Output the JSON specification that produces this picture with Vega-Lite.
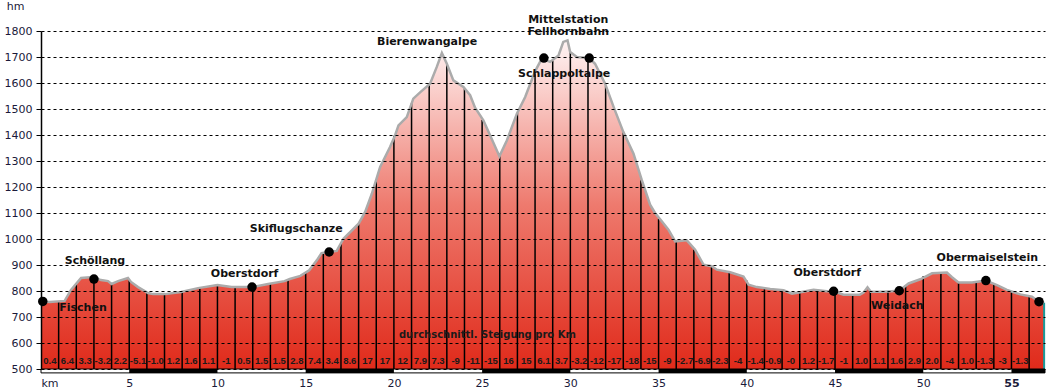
{
  "$schema": "https://vega.github.io/schema/vega-lite/v6.json",
  "width": 1004,
  "height": 338,
  "autosize": "none",
  "padding": {"left": 41, "top": 31, "right": 2, "bottom": 23},
  "background": "#ffffff",
  "config": {"view": {"stroke": null}},
  "datasets": {
    "profile": [
      {"km": 0, "elev": 760}, {"km": 0.5, "elev": 758}, {"km": 1.34, "elev": 762}, {"km": 1.7, "elev": 804},
      {"km": 2.27, "elev": 850}, {"km": 2.95, "elev": 854}, {"km": 3.4, "elev": 842}, {"km": 3.8, "elev": 838},
      {"km": 4.0, "elev": 827}, {"km": 4.37, "elev": 838}, {"km": 4.93, "elev": 850}, {"km": 5.1, "elev": 835},
      {"km": 5.5, "elev": 815}, {"km": 6.07, "elev": 792}, {"km": 6.35, "elev": 788}, {"km": 7.03, "elev": 788},
      {"km": 7.94, "elev": 796}, {"km": 8.9, "elev": 811}, {"km": 10.0, "elev": 823}, {"km": 10.8, "elev": 815},
      {"km": 11.56, "elev": 815}, {"km": 12.0, "elev": 815}, {"km": 12.87, "elev": 827}, {"km": 13.8, "elev": 838},
      {"km": 14.1, "elev": 846}, {"km": 14.7, "elev": 858}, {"km": 15.2, "elev": 880}, {"km": 15.63, "elev": 918},
      {"km": 15.9, "elev": 946}, {"km": 16.3, "elev": 950}, {"km": 16.76, "elev": 954}, {"km": 17.14, "elev": 1001},
      {"km": 18.0, "elev": 1059}, {"km": 18.37, "elev": 1104}, {"km": 18.75, "elev": 1174}, {"km": 19.22, "elev": 1277},
      {"km": 19.78, "elev": 1354}, {"km": 20.07, "elev": 1399}, {"km": 20.26, "elev": 1437}, {"km": 20.73, "elev": 1469},
      {"km": 21.1, "elev": 1540}, {"km": 21.5, "elev": 1565}, {"km": 22.05, "elev": 1597}, {"km": 22.43, "elev": 1662},
      {"km": 22.72, "elev": 1715}, {"km": 23.0, "elev": 1674}, {"km": 23.37, "elev": 1610}, {"km": 23.94, "elev": 1585},
      {"km": 24.32, "elev": 1553}, {"km": 24.6, "elev": 1505}, {"km": 25.07, "elev": 1456}, {"km": 25.45, "elev": 1399},
      {"km": 25.98, "elev": 1318}, {"km": 26.4, "elev": 1379}, {"km": 26.97, "elev": 1482}, {"km": 27.44, "elev": 1546},
      {"km": 28.0, "elev": 1645}, {"km": 28.38, "elev": 1694}, {"km": 28.85, "elev": 1681}, {"km": 29.33, "elev": 1706},
      {"km": 29.6, "elev": 1758}, {"km": 29.84, "elev": 1764}, {"km": 29.99, "elev": 1719}, {"km": 30.37, "elev": 1700},
      {"km": 31.07, "elev": 1696}, {"km": 31.4, "elev": 1674}, {"km": 31.97, "elev": 1597}, {"km": 32.45, "elev": 1508},
      {"km": 33.0, "elev": 1412}, {"km": 33.58, "elev": 1328}, {"km": 34.05, "elev": 1226}, {"km": 34.52, "elev": 1132},
      {"km": 34.8, "elev": 1100}, {"km": 35.09, "elev": 1076}, {"km": 35.56, "elev": 1036}, {"km": 35.94, "elev": 991},
      {"km": 36.6, "elev": 995}, {"km": 37.07, "elev": 959}, {"km": 37.55, "elev": 901}, {"km": 38.02, "elev": 895},
      {"km": 38.3, "elev": 882}, {"km": 39.06, "elev": 872}, {"km": 39.81, "elev": 856}, {"km": 40.1, "elev": 824},
      {"km": 40.57, "elev": 815}, {"km": 41.33, "elev": 808}, {"km": 42.08, "elev": 803}, {"km": 42.56, "elev": 790},
      {"km": 43.03, "elev": 795}, {"km": 43.78, "elev": 805}, {"km": 44.54, "elev": 799}, {"km": 44.92, "elev": 799},
      {"km": 45.48, "elev": 786}, {"km": 46.4, "elev": 786}, {"km": 46.62, "elev": 794}, {"km": 46.84, "elev": 814},
      {"km": 47.03, "elev": 797}, {"km": 47.75, "elev": 797}, {"km": 48.64, "elev": 801}, {"km": 49.17, "elev": 829},
      {"km": 49.83, "elev": 845}, {"km": 50.5, "elev": 868}, {"km": 51.34, "elev": 871}, {"km": 51.63, "elev": 853},
      {"km": 52.0, "elev": 833}, {"km": 52.76, "elev": 833}, {"km": 53.55, "elev": 840}, {"km": 54.18, "elev": 823},
      {"km": 54.74, "elev": 804}, {"km": 55.5, "elev": 787}, {"km": 56.16, "elev": 778}, {"km": 56.56, "elev": 759},
      {"km": 56.85, "elev": 755}
    ],
    "kmlines": [
      {"km": 1, "elev": 760}, {"km": 2, "elev": 828}, {"km": 3, "elev": 848}, {"km": 4, "elev": 827},
      {"km": 5, "elev": 845}, {"km": 6, "elev": 795}, {"km": 7, "elev": 788}, {"km": 8, "elev": 797},
      {"km": 9, "elev": 812}, {"km": 10, "elev": 823}, {"km": 11, "elev": 815}, {"km": 12, "elev": 815},
      {"km": 13, "elev": 829}, {"km": 14, "elev": 843}, {"km": 15, "elev": 870}, {"km": 16, "elev": 948},
      {"km": 17, "elev": 982}, {"km": 18, "elev": 1059}, {"km": 19, "elev": 1226}, {"km": 20, "elev": 1397},
      {"km": 21, "elev": 1522}, {"km": 22, "elev": 1600}, {"km": 23, "elev": 1674}, {"km": 24, "elev": 1578},
      {"km": 25, "elev": 1458}, {"km": 26, "elev": 1318}, {"km": 27, "elev": 1486}, {"km": 28, "elev": 1642},
      {"km": 29, "elev": 1686}, {"km": 30, "elev": 1722}, {"km": 31, "elev": 1692}, {"km": 32, "elev": 1588},
      {"km": 33, "elev": 1410}, {"km": 34, "elev": 1226}, {"km": 35, "elev": 1077}, {"km": 36, "elev": 989},
      {"km": 37, "elev": 960}, {"km": 38, "elev": 895}, {"km": 39, "elev": 870}, {"km": 40, "elev": 840},
      {"km": 41, "elev": 811}, {"km": 42, "elev": 803}, {"km": 43, "elev": 795}, {"km": 44, "elev": 803},
      {"km": 45, "elev": 796}, {"km": 46, "elev": 786}, {"km": 47, "elev": 797}, {"km": 48, "elev": 797},
      {"km": 49, "elev": 822}, {"km": 50, "elev": 858}, {"km": 51, "elev": 870}, {"km": 52, "elev": 833},
      {"km": 53, "elev": 833}, {"km": 54, "elev": 826}, {"km": 55, "elev": 800}, {"km": 56, "elev": 779}
    ],
    "gradients": [
      {"km": 0.5, "g": "0.4"}, {"km": 1.5, "g": "6.4"}, {"km": 2.5, "g": "3.3"}, {"km": 3.5, "g": "-3.2"},
      {"km": 4.5, "g": "2.2"}, {"km": 5.5, "g": "-5.1"}, {"km": 6.5, "g": "-1.0"}, {"km": 7.5, "g": "1.2"},
      {"km": 8.5, "g": "1.6"}, {"km": 9.5, "g": "1.1"}, {"km": 10.5, "g": "-1"}, {"km": 11.5, "g": "0.5"},
      {"km": 12.5, "g": "1.5"}, {"km": 13.5, "g": "1.5"}, {"km": 14.5, "g": "2.8"}, {"km": 15.5, "g": "7.4"},
      {"km": 16.5, "g": "3.4"}, {"km": 17.5, "g": "8.6"}, {"km": 18.5, "g": "17"}, {"km": 19.5, "g": "17"},
      {"km": 20.5, "g": "12"}, {"km": 21.5, "g": "7.9"}, {"km": 22.5, "g": "7.3"}, {"km": 23.5, "g": "-9"},
      {"km": 24.5, "g": "-11"}, {"km": 25.5, "g": "-15"}, {"km": 26.5, "g": "16"}, {"km": 27.5, "g": "15"},
      {"km": 28.5, "g": "6.1"}, {"km": 29.5, "g": "3.7"}, {"km": 30.5, "g": "-3.2"}, {"km": 31.5, "g": "-12"},
      {"km": 32.5, "g": "-17"}, {"km": 33.5, "g": "-18"}, {"km": 34.5, "g": "-15"}, {"km": 35.5, "g": "-9"},
      {"km": 36.5, "g": "-2.7"}, {"km": 37.5, "g": "-6.9"}, {"km": 38.5, "g": "-2.3"}, {"km": 39.5, "g": "-4"},
      {"km": 40.5, "g": "-1.4"}, {"km": 41.5, "g": "-0.9"}, {"km": 42.5, "g": "-0"}, {"km": 43.5, "g": "1.2"},
      {"km": 44.5, "g": "-1.7"}, {"km": 45.5, "g": "-1"}, {"km": 46.5, "g": "1.0"}, {"km": 47.5, "g": "1.1"},
      {"km": 48.5, "g": "1.6"}, {"km": 49.5, "g": "2.9"}, {"km": 50.5, "g": "2.0"}, {"km": 51.5, "g": "-4"},
      {"km": 52.5, "g": "1.0"}, {"km": 53.5, "g": "-1.3"}, {"km": 54.5, "g": "-3"}, {"km": 55.5, "g": "-1.3"}
    ],
    "places": [
      {"km": 0.1, "elev": 760}, {"km": 3.0, "elev": 846}, {"km": 11.96, "elev": 815}, {"km": 16.33, "elev": 950},
      {"km": 28.5, "elev": 1696}, {"km": 31.07, "elev": 1696}, {"km": 44.92, "elev": 799}, {"km": 48.64, "elev": 801},
      {"km": 53.55, "elev": 840}, {"km": 56.56, "elev": 759}
    ],
    "labels": [
      {"name": ["Fischen"], "km": 2.38, "elev": 735},
      {"name": ["Schöllang"], "km": 3.06, "elev": 915},
      {"name": ["Oberstdorf"], "km": 11.54, "elev": 865},
      {"name": ["Skiflugschanze"], "km": 14.46, "elev": 1038},
      {"name": ["Bierenwangalpe"], "km": 21.88, "elev": 1758},
      {"name": ["Mittelstation", "Fellhornbahn"], "km": 29.88, "elev": 1842},
      {"name": ["Schlappoltalpe"], "km": 29.65, "elev": 1635},
      {"name": ["Oberstdorf"], "km": 44.56, "elev": 869},
      {"name": ["Weidach"], "km": 48.53, "elev": 742},
      {"name": ["Obermaiselstein"], "km": 53.63, "elev": 927}
    ],
    "barblack": [
      {"from": 5, "to": 10}, {"from": 15, "to": 20}, {"from": 25, "to": 30},
      {"from": 35, "to": 40}, {"from": 45, "to": 50}, {"from": 55, "to": 56.9}
    ]
  },
  "layer": [
    {
      "data": {"name": "profile"},
      "mark": {
        "type": "area",
        "color": {
          "gradient": "linear", "x1": 0, "y1": 1, "x2": 0, "y2": 0,
          "stops": [
            {"offset": 0, "color": "#e02a1a"},
            {"offset": 0.5, "color": "#ee7a6e"},
            {"offset": 1, "color": "#fff4f4"}
          ]
        }
      },
      "encoding": {
        "x": {
          "field": "km", "type": "quantitative",
          "scale": {"domain": [0, 56.9], "nice": false, "zero": false},
          "axis": {
            "values": [0, 5, 10, 15, 20, 25, 30, 35, 40, 45, 50, 55], "tickCount": 12,
            "grid": false, "domain": false, "ticks": false, "title": null,
            "labelExpr": "datum.value == 0 ? 'km' : datum.label",
            "labelFontWeight": {"expr": "datum.value == 55 ? 'bold' : 'normal'"},
            "labelFont": "DejaVu Sans", "labelFontSize": 11, "labelColor": "#1a1a3a",
            "labelPadding": 8, "labelOverlap": false
          }
        },
        "y": {
          "field": "elev", "type": "quantitative",
          "scale": {"domain": [500, 1800], "nice": false, "zero": false},
          "axis": {
            "values": [500, 600, 700, 800, 900, 1000, 1100, 1200, 1300, 1400, 1500, 1600, 1700, 1800],
            "tickCount": 14,
            "format": "d", "labelOverlap": false, "labelFlush": false,
            "grid": true, "gridDash": [3, 3], "gridColor": "#000000", "gridOpacity": 1, "gridWidth": 1,
            "domainColor": "#000000", "domainWidth": 1.5, "tickColor": "#000000", "tickSize": 5,
            "labelFont": "DejaVu Sans", "labelFontSize": 11, "labelColor": "#1a1a3a", "labelPadding": 4,
            "title": "hm", "titleAngle": 0, "titleX": -26, "titleY": -25, "titleAlign": "center",
            "titleBaseline": "middle", "titleFont": "DejaVu Sans", "titleFontSize": 11,
            "titleFontWeight": "normal", "titleColor": "#1a1a3a", "zindex": 1
          }
        },
        "y2": {"datum": 500}
      }
    },
    {
      "data": {"name": "kmlines"},
      "mark": {"type": "rule", "color": "#000000", "strokeWidth": 1.5},
      "encoding": {
        "x": {"field": "km", "type": "quantitative"},
        "y": {"field": "elev", "type": "quantitative"},
        "y2": {"datum": 500}
      }
    },
    {
      "data": {"values": [{"km": 56.85, "elev": 755}]},
      "mark": {"type": "rule", "color": "#1a9a9a", "strokeWidth": 2},
      "encoding": {
        "x": {"field": "km", "type": "quantitative"},
        "y": {"field": "elev", "type": "quantitative"},
        "y2": {"datum": 500}
      }
    },
    {
      "data": {"name": "profile"},
      "mark": {"type": "line", "color": "#ababab", "strokeWidth": 2.5},
      "encoding": {
        "x": {"field": "km", "type": "quantitative"},
        "y": {"field": "elev", "type": "quantitative"}
      }
    },
    {
      "data": {"values": [{}]},
      "mark": {"type": "rect", "fill": "#ffffff", "stroke": "#000000", "strokeWidth": 1},
      "encoding": {
        "x": {"datum": 0, "type": "quantitative"},
        "x2": {"datum": 56.9},
        "y": {"datum": 500, "type": "quantitative"},
        "y2": {"datum": 485}
      }
    },
    {
      "data": {"name": "barblack"},
      "mark": {"type": "rect", "fill": "#000000"},
      "encoding": {
        "x": {"field": "from", "type": "quantitative"},
        "x2": {"field": "to"},
        "y": {"datum": 500, "type": "quantitative"},
        "y2": {"datum": 485}
      }
    },
    {
      "data": {"name": "gradients"},
      "mark": {"type": "text", "font": "Liberation Sans", "fontWeight": "bold", "fontSize": 9.5, "color": "#1a1a1a", "baseline": "middle", "align": "center"},
      "encoding": {
        "x": {"field": "km", "type": "quantitative"},
        "y": {"datum": 531, "type": "quantitative"},
        "text": {"field": "g"}
      }
    },
    {
      "data": {"values": [{"t": "durchschnittl. Steigung pro Km"}]},
      "mark": {"type": "text", "font": "DejaVu Sans", "fontWeight": "bold", "fontSize": 10, "color": "#1a1a1a", "baseline": "middle", "align": "center"},
      "encoding": {
        "x": {"datum": 25.3, "type": "quantitative"},
        "y": {"datum": 631, "type": "quantitative"},
        "text": {"field": "t"}
      }
    },
    {
      "data": {"name": "places"},
      "mark": {"type": "point", "filled": true, "color": "#000000", "size": 90, "opacity": 1},
      "encoding": {
        "x": {"field": "km", "type": "quantitative"},
        "y": {"field": "elev", "type": "quantitative"}
      }
    },
    {
      "data": {"name": "labels"},
      "mark": {"type": "text", "font": "DejaVu Sans", "fontWeight": "bold", "fontSize": 11, "color": "#111111", "baseline": "middle", "align": "center", "lineHeight": 12},
      "encoding": {
        "x": {"field": "km", "type": "quantitative"},
        "y": {"field": "elev", "type": "quantitative"},
        "text": {"field": "name"}
      }
    }
  ]
}
